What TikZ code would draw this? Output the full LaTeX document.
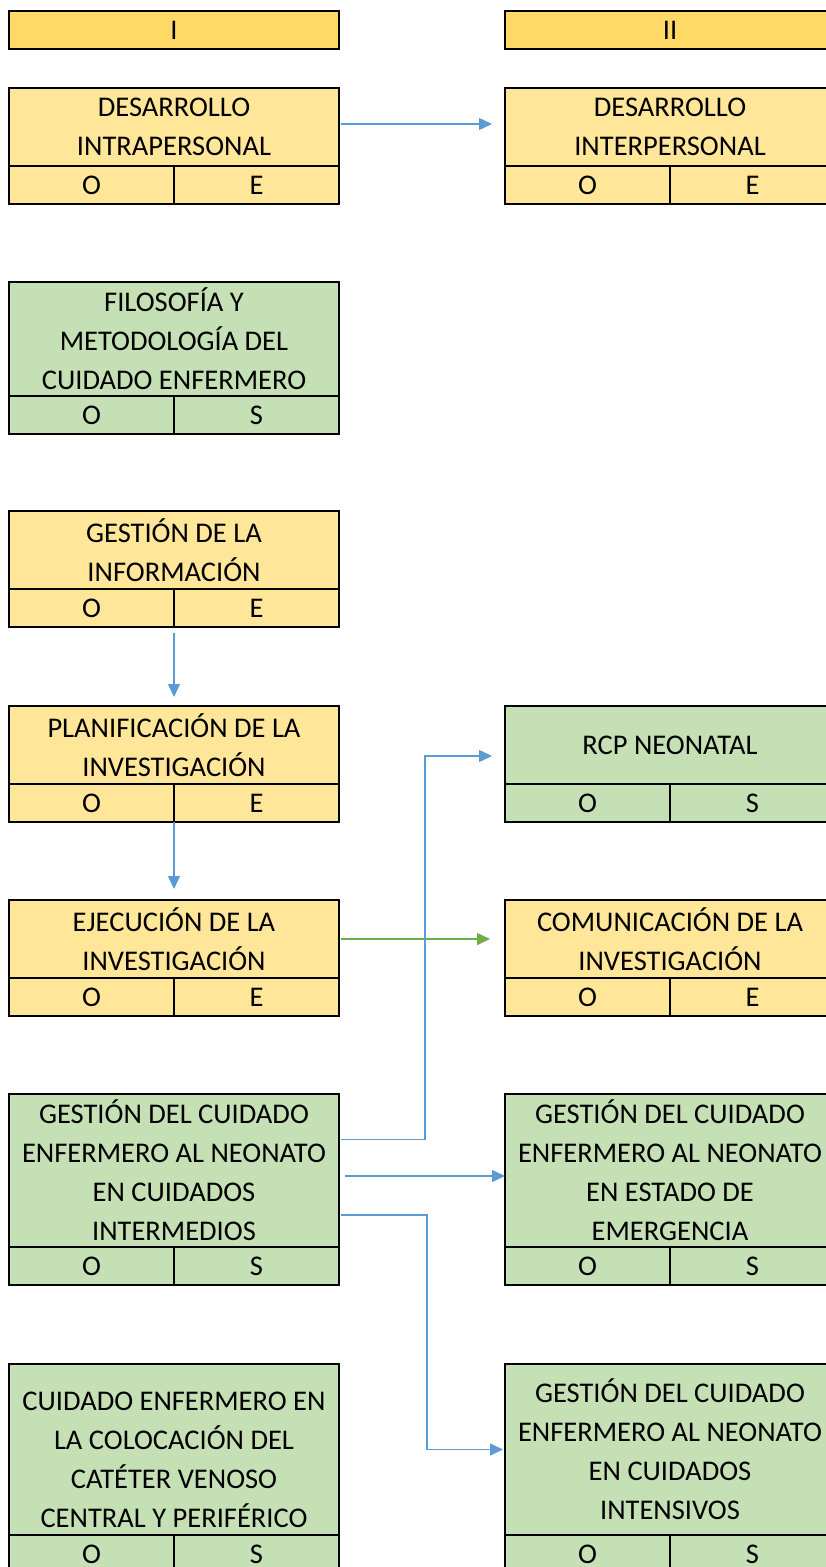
\documentclass[tikz,border=0pt]{standalone}
\usepackage{fontspec}
\setmainfont{Carlito}
\usetikzlibrary{positioning, arrows.meta}
\definecolor{gold}{HTML}{FFD966}
\definecolor{ylw}{HTML}{FFE699}
\definecolor{grn}{HTML}{C5E0B4}
\definecolor{arrblue}{HTML}{5B9BD5}
\definecolor{arrgreen}{HTML}{70AD47}

\begin{document}
\begin{tikzpicture}[x=1pt, y=-1pt, font=\fontsize{28.5}{39}\selectfont,
	box/.style={draw, line width=1.5pt, outer sep=0pt, inner sep=0pt, minimum width=330pt, align=center},
	cell/.style={draw, line width=1.5pt, outer sep=0pt, inner sep=0pt, minimum width=165pt, minimum height=38pt},
	blu/.style={arrblue, line width=1.5pt, -{Triangle[length=13pt,width=12pt]}},
	grnarr/.style={arrgreen, line width=1.5pt, -{Triangle[length=13pt,width=12pt]}}]
	\clip (0,0) rectangle (826,1567);
	\node[box, fill=gold, minimum height=38pt] (hdr1) at (174,30) {I};
	\node[box, fill=gold, minimum height=38pt] (hdr2) [right=166pt of hdr1] {II};
	\node[box, fill=ylw, minimum height=78pt] (intra) at (174,127) {DESARROLLO\\INTRAPERSONAL};
	\node[box, fill=ylw, minimum height=78pt] (inter) [right=166pt of intra] {DESARROLLO\\INTERPERSONAL};
	\node[box, fill=grn, minimum height=114pt] (filo) at (174,339) {FILOSOFÍA Y\\METODOLOGÍA DEL\\CUIDADO ENFERMERO};
	\node[box, fill=ylw, minimum height=78pt] (info) at (174,550) {GESTIÓN DE LA\\INFORMACIÓN};
	\node[box, fill=ylw, minimum height=78pt] (plan) at (174,745) {PLANIFICACIÓN DE LA\\INVESTIGACIÓN};
	\node[box, fill=grn, minimum height=78pt] (rcp) [right=166pt of plan] {RCP NEONATAL};
	\node[box, fill=ylw, minimum height=78pt] (ejec) at (174,939) {EJECUCIÓN DE LA\\INVESTIGACIÓN};
	\node[box, fill=ylw, minimum height=78pt] (comu) [right=166pt of ejec] {COMUNICACIÓN DE LA\\INVESTIGACIÓN};
	\node[box, fill=grn, minimum height=153pt] (interm) at (174,1170.5) {GESTIÓN DEL CUIDADO\\ENFERMERO AL NEONATO\\EN CUIDADOS\\INTERMEDIOS};
	\node[box, fill=grn, minimum height=153pt] (emerg) [right=166pt of interm] {GESTIÓN DEL CUIDADO\\ENFERMERO AL NEONATO\\EN ESTADO DE\\EMERGENCIA};
	\node[box, fill=grn, minimum height=171pt,
		label={[align=center, yshift=-10pt]center:CUIDADO ENFERMERO EN\\LA COLOCACIÓN DEL\\CATÉTER VENOSO\\CENTRAL Y PERIFÉRICO}] (cat) at (174,1449.5) {};
	\node[box, fill=grn, minimum height=171pt] (intens) [right=166pt of cat] {GESTIÓN DEL CUIDADO\\ENFERMERO AL NEONATO\\EN CUIDADOS\\INTENSIVOS};
	% O / E or O / S rows
	\foreach \n/\c/\s in {intra/ylw/E, inter/ylw/E, filo/grn/S, info/ylw/E, plan/ylw/E, rcp/grn/S, ejec/ylw/E, comu/ylw/E, interm/grn/S, emerg/grn/S, cat/grn/S, intens/grn/S} {
		\node[cell, fill=\c, anchor=north west] (\n_o) at (\n.south west) {O};
		\node[cell, fill=\c, anchor=north east] (\n_s) at (\n.south east) {\s};
	}
	\draw[blu, shorten <=2pt, shorten >=13pt] ([yshift=3pt]intra.east) -- ([yshift=3pt]inter.west);
	\draw[blu, shorten <=6pt, shorten >=9pt] (info_o.south east) -- (plan.north);
	\draw[blu, shorten >=11pt] (plan_o.south east) -- (ejec.north);
	\draw[grnarr, shorten <=2pt, shorten >=15pt] (ejec.east) -- (comu.west);
	\draw[blu, shorten <=2pt, shorten >=13pt] ([yshift=31pt]interm.east) -- ++(86,0) |- ([yshift=-11pt]rcp.west);
	\draw[blu, shorten <=6pt] ([yshift=-5.5pt]interm.east) -- ([yshift=-5.5pt]emerg.west);
	\draw[blu, shorten <=2pt, shorten >=2pt] ([yshift=-44.5pt]interm.east) -- ++(88,0) |- (intens.west);
\end{tikzpicture}
\end{document}
